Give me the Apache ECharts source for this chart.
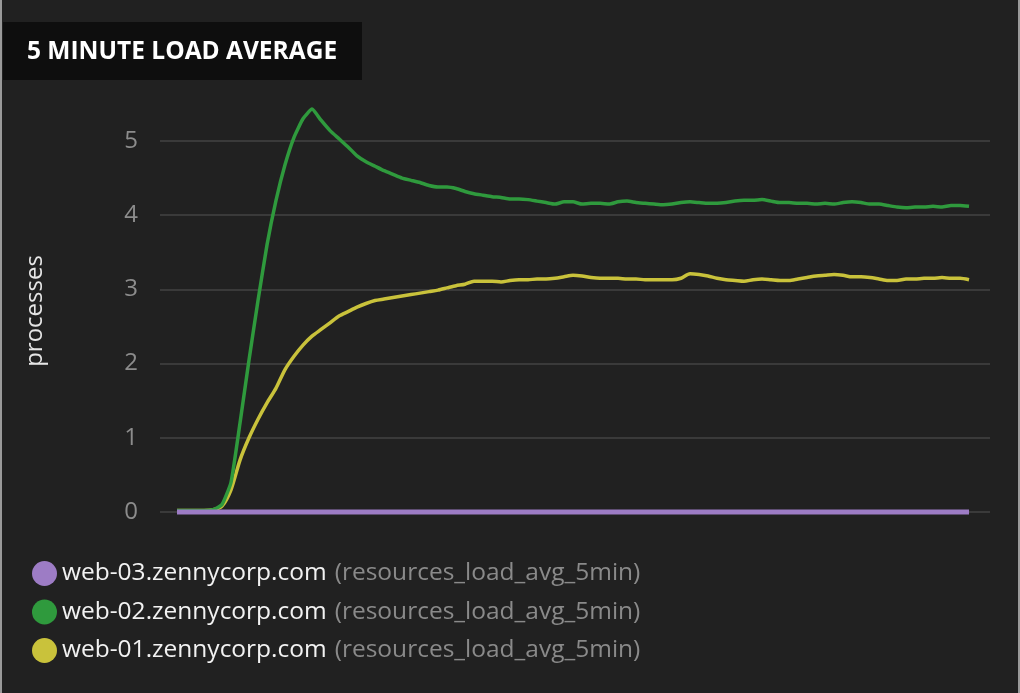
<!DOCTYPE html>
<html>
<head>
<meta charset="utf-8">
<script src="https://cdn.jsdelivr.net/npm/echarts@6/dist/echarts.min.js"></script>
<style>
  html, body { margin: 0; padding: 0; background: #212121; }
  #chart { width: 1020px; height: 693px; }
</style>
</head>
<body>
<div id="chart"></div>
<script>
  // 数据
  const yTicks = [0, 1, 2, 3, 4, 5];
  const hostNames = ['web-03.zennycorp.com', 'web-02.zennycorp.com', 'web-01.zennycorp.com'];
  const metricName = 'resources_load_avg_5min';

  const web03 = [
    0, 0, 0, 0, 0, 0, 0, 0, 0, 0, 0, 0, 0, 0, 0, 0, 0, 0, 0, 0,
    0, 0, 0, 0, 0, 0, 0, 0, 0, 0, 0, 0, 0, 0, 0, 0, 0, 0, 0, 0,
    0, 0, 0, 0, 0, 0, 0, 0, 0, 0, 0, 0, 0, 0, 0, 0, 0, 0, 0, 0,
    0, 0, 0, 0, 0, 0, 0, 0, 0, 0, 0, 0, 0, 0, 0, 0, 0, 0, 0, 0,
    0, 0, 0, 0, 0, 0, 0, 0, 0
  ];
  const web02 = [
    0.02, 0.02, 0.02, 0.02, 0.03, 0.1, 0.4, 1.2, 2.05, 2.85,
    3.6, 4.2, 4.68, 5.05, 5.3, 5.43, 5.28, 5.14, 5.03, 4.92,
    4.8, 4.72, 4.66, 4.6, 4.55, 4.5, 4.47, 4.44, 4.4, 4.38,
    4.38, 4.36, 4.32, 4.29, 4.27, 4.25, 4.24, 4.22, 4.22, 4.21,
    4.19, 4.17, 4.15, 4.18, 4.18, 4.15, 4.16, 4.16, 4.15, 4.18,
    4.19, 4.17, 4.16, 4.15, 4.14, 4.15, 4.17, 4.18, 4.17, 4.16,
    4.16, 4.17, 4.19, 4.2, 4.2, 4.21, 4.19, 4.17, 4.17, 4.16,
    4.16, 4.15, 4.16, 4.15, 4.17, 4.18, 4.17, 4.15, 4.15, 4.13,
    4.11, 4.1, 4.11, 4.11, 4.12, 4.11, 4.13, 4.13, 4.12
  ];
  const web01 = [
    0.02, 0.02, 0.02, 0.02, 0.03, 0.08, 0.3, 0.7, 1.0, 1.25,
    1.47, 1.67, 1.92, 2.1, 2.25, 2.37, 2.46, 2.55, 2.64, 2.7,
    2.76, 2.81, 2.85, 2.87, 2.89, 2.91, 2.93, 2.95, 2.97, 2.99,
    3.02, 3.05, 3.07, 3.11, 3.11, 3.11, 3.1, 3.12, 3.13, 3.13,
    3.14, 3.14, 3.15, 3.17, 3.19, 3.18, 3.16, 3.15, 3.15, 3.15,
    3.14, 3.14, 3.13, 3.13, 3.13, 3.13, 3.15, 3.21, 3.2, 3.18,
    3.15, 3.13, 3.12, 3.11, 3.13, 3.14, 3.13, 3.12, 3.12, 3.14,
    3.16, 3.18, 3.19, 3.2, 3.19, 3.17, 3.17, 3.16, 3.14, 3.12,
    3.12, 3.14, 3.14, 3.15, 3.15, 3.16, 3.15, 3.15, 3.13
  ];

  const colors = ['#9d7cc5', '#2f9a3d', '#c9c23b'];

  const toPairs = (arr) => arr.map((v, i) => [i, v]);

  var chartDom = document.getElementById('chart');
  var myChart = echarts.init(chartDom);

  var option = {
    backgroundColor: '#212121',
    animation: false,
    textStyle: { fontFamily: '"Open Sans", sans-serif' },
    graphic: [
      { type: 'rect', left: 0, top: 0, shape: { width: 2, height: 693 }, style: { fill: '#9a9a9a' } },
      { type: 'rect', right: 0, top: 0, shape: { width: 2, height: 693 }, style: { fill: '#9a9a9a' } },
      { type: 'rect', left: 3, top: 22, shape: { width: 359, height: 58 }, style: { fill: '#0e0e0e' } },
      {
        type: 'text', left: 27, top: 40,
        style: {
          text: '5 MINUTE LOAD AVERAGE',
          fill: '#ffffff',
          font: 'bold 24.5px "Open Sans", sans-serif',
        },
      },
      // 纵轴名称
      {
        type: 'text',
        x: 35, y: 311,
        rotation: Math.PI / 2,
        style: {
          text: 'processes',
          fill: '#e6e6e6',
          font: '24px "Open Sans", sans-serif',
          align: 'center',
          verticalAlign: 'middle',
        },
      },
    ],
    grid: {
      left: 160,
      right: 30,
      top: 141,
      bottom: 181,
    },
    xAxis: {
      type: 'value',
      min: -1.89,
      max: 90.33,
      show: false,
    },
    yAxis: {
      type: 'value',
      min: yTicks[0],
      max: yTicks[yTicks.length - 1],
      interval: 1,
      axisLine: { show: false },
      axisTick: { show: false },
      axisLabel: {
        color: '#8c8c8c',
        fontSize: 24,
        margin: 22,
      },
      splitLine: {
        show: true,
        lineStyle: { color: '#3a3a3a', width: 2 },
      },
    },
    legend: {
      orient: 'vertical',
      left: 27,
      top: 556,
      icon: 'circle',
      itemWidth: 25,
      itemHeight: 25,
      itemGap: 13.5,
      itemStyle: { borderWidth: 0 },
      selectedMode: false,
      data: hostNames,
      formatter: (name) => `{h|${name}}{m|(${metricName})}`,
      textStyle: {
        padding: [0, 0, 0, 0],
        rich: {
          h: { color: '#f2f2f2', fontSize: 24.5, fontFamily: '"Open Sans", sans-serif' },
          m: { color: '#8a8a8a', fontSize: 24.5, fontFamily: '"Open Sans", sans-serif', padding: [0, 0, 0, 8] },
        },
      },
    },
    series: [
      {
        name: hostNames[2],
        type: 'line',
        data: toPairs(web01),
        color: colors[2],
        showSymbol: false,
        smooth: 0.25,
        clip: false,
        lineStyle: { width: 3.5 },
        z: 2,
      },
      {
        name: hostNames[1],
        type: 'line',
        data: toPairs(web02),
        color: colors[1],
        showSymbol: false,
        smooth: 0.15,
        clip: false,
        lineStyle: { width: 3.5 },
        z: 3,
      },
      {
        name: hostNames[0],
        type: 'line',
        data: toPairs(web03),
        color: colors[0],
        showSymbol: false,
        clip: false,
        lineStyle: { width: 5 },
        z: 4,
      },
    ],
  };
  option && myChart.setOption(option);
</script>
</body>
</html>
